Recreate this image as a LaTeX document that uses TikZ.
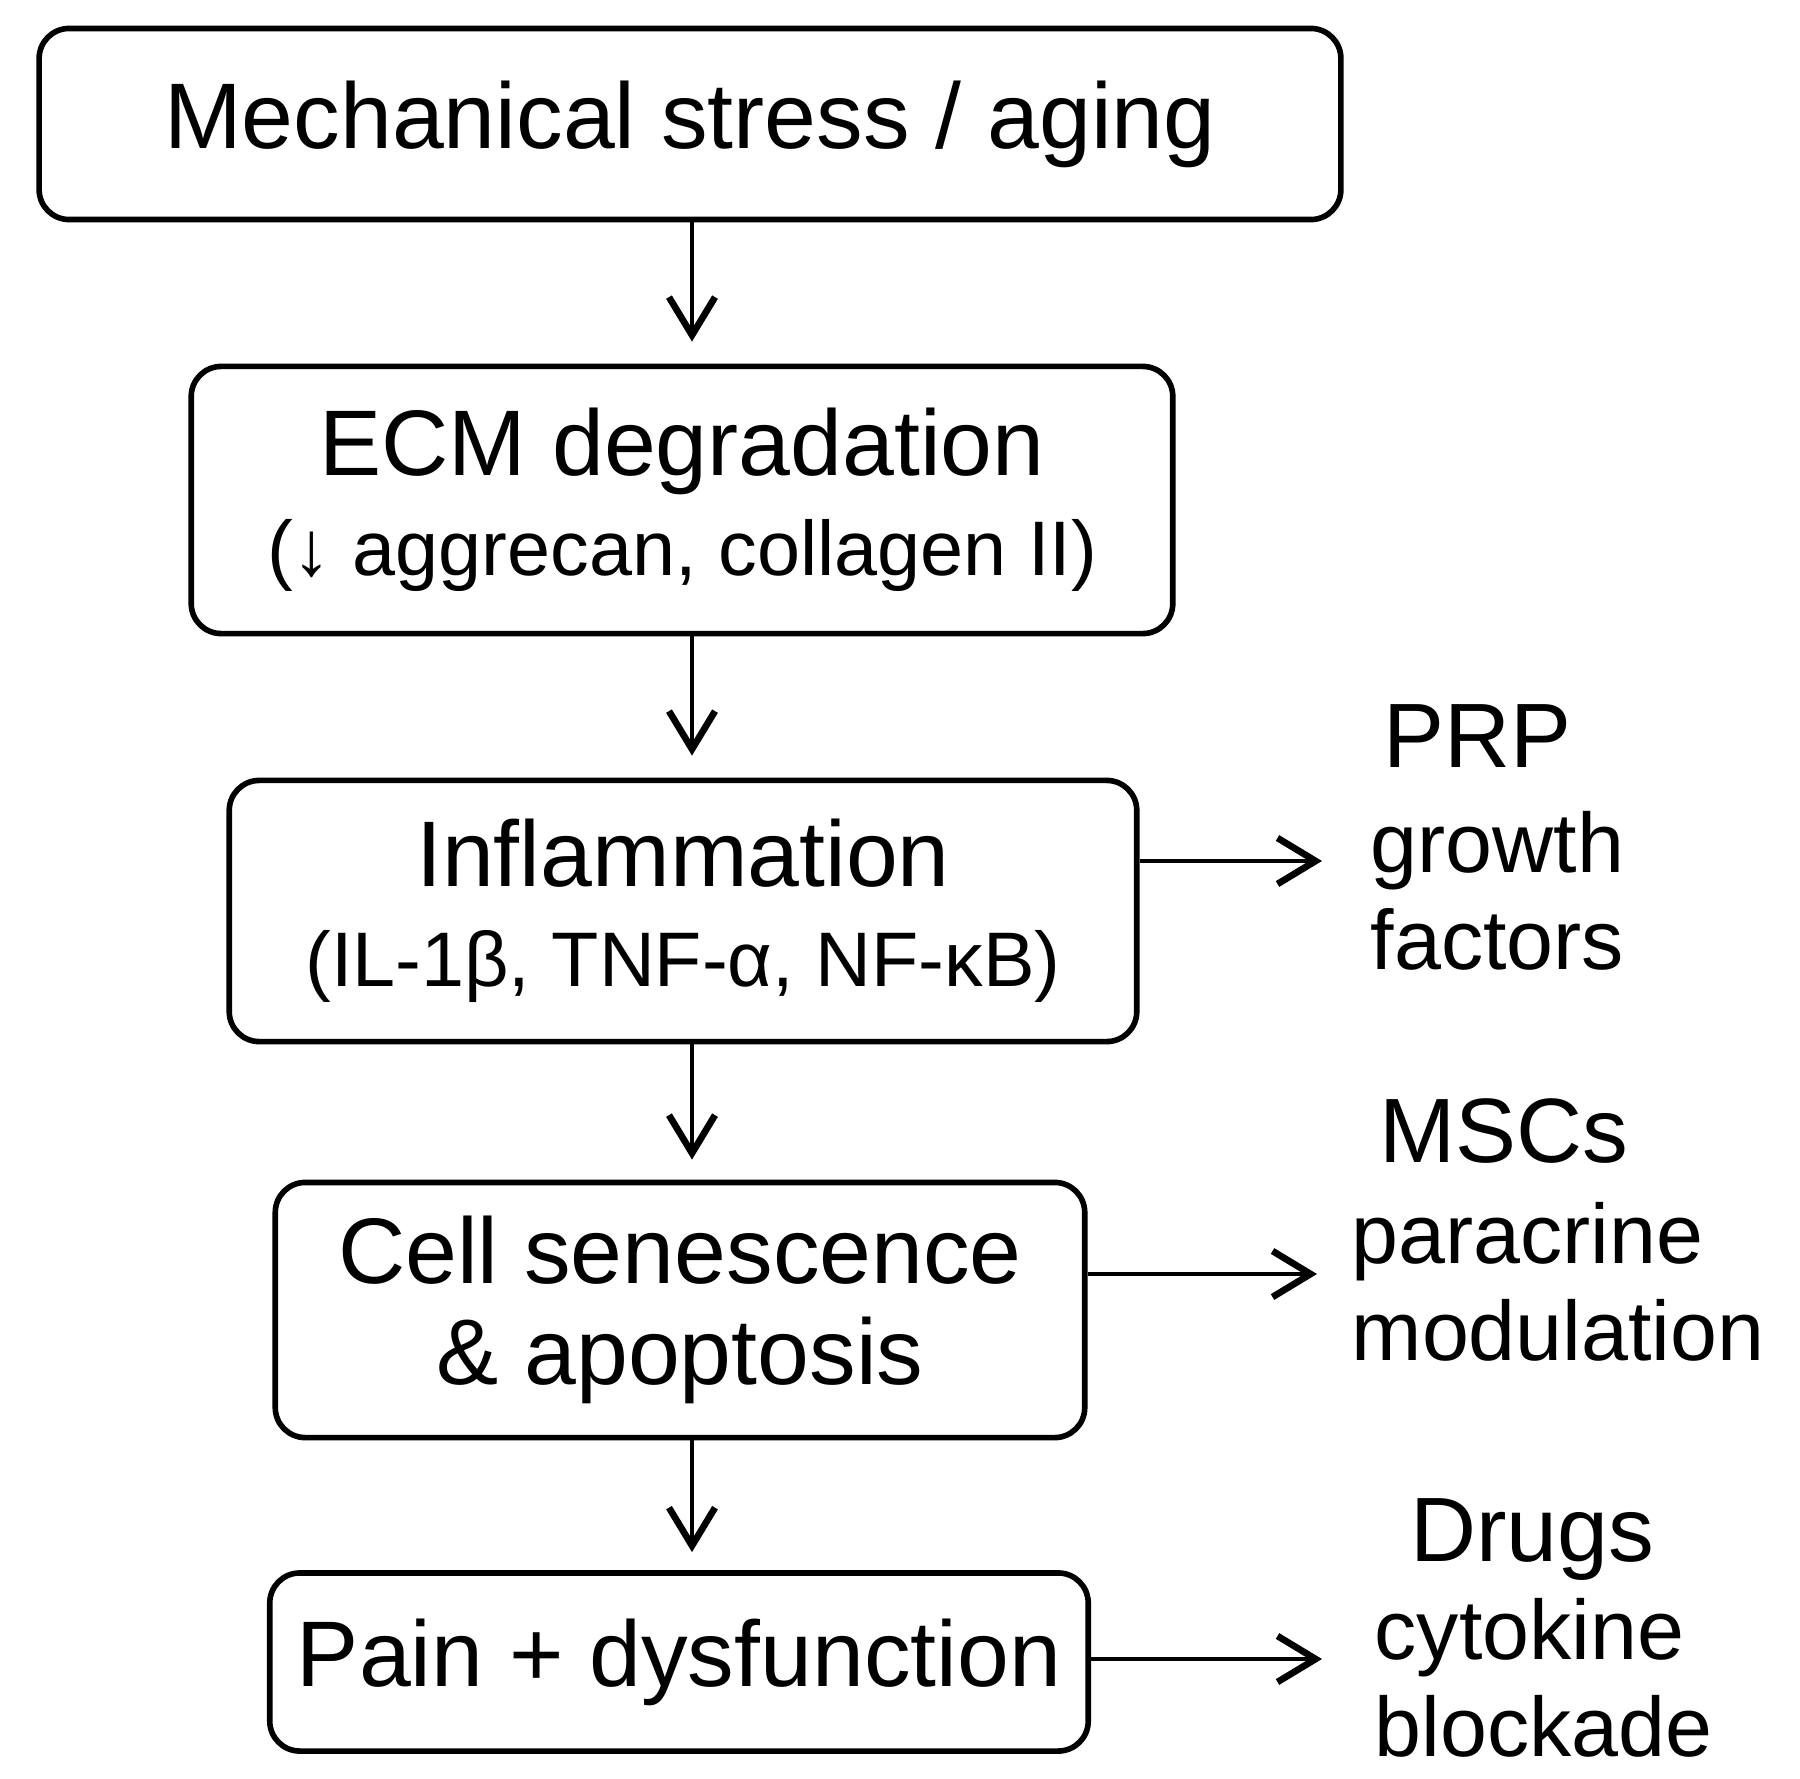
\documentclass[tikz,border=0pt]{standalone}
\usepackage{fontspec}
\setmainfont{Liberation Sans}
\usetikzlibrary{arrows.meta,positioning}
\newcommand{\detailsize}{\fontsize{22}{28.5}\selectfont}

\begin{document}
\begin{tikzpicture}[
  x=0.01cm, y=-0.01cm,
  stage/.style={draw, rounded corners=0.3cm, line width=1.6pt, align=center,
    inner sep=0pt, font=\fontsize{26.5}{28.5}\selectfont},
  therapy/.style={font=\fontsize{26}{30}\selectfont, anchor=base, inner sep=0pt},
  effect/.style={font=\fontsize{24}{27.5}\selectfont, align=left,
    anchor=north west, inner sep=0pt},
  flow/.style={->, line width=1.4pt},
  >={Straight Barb[length=0.38cm,width=0.46cm,line width=1.9pt]},
  ]
  \useasboundingbox (0,0) rectangle (1800,1779);

  % Cascade
  \node[stage, minimum width=13.01cm, minimum height=1.91cm] (stress) at (690,124) {Mechanical stress / aging};
  \node[stage, minimum width=9.81cm, minimum height=2.67cm] (ecm) at (682,500) {ECM degradation\\{\detailsize(↓ aggrecan, collagen II)}};
  \node[stage, minimum width=9.07cm, minimum height=2.61cm] (inflam) at (683,911) {Inflammation\\{\detailsize(IL-1β, TNF-α, NF-κB)}};
  \node[stage, minimum width=8.09cm, minimum height=2.55cm] (senes) at (680,1310) {Cell senescence\\\& apoptosis};
  \node[stage, minimum width=8.18cm, minimum height=1.78cm] (pain) at (679,1662) {Pain + dysfunction};

  % Therapies
  \node[therapy] (prp)    at (1477,767)  {PRP};
  \node[effect]  (prpfx)  at (1370,811)  {growth\\factors};
  \node[therapy] (msc)    at (1504,1162) {MSCs};
  \node[effect]  (mscfx)  at (1351,1202) {paracrine\\modulation};
  \node[therapy] (drug)   at (1532,1561) {Drugs};
  \node[effect]  (drugfx) at (1374,1598) {cytokine\\blockade};

  % Arrow ends
  \coordinate (spine)  at (692,0);
  \coordinate (prpin)  at (1322,861);
  \coordinate (mscin)  at (1317,1274);
  \coordinate (drugin) at (1322,1659);

  % Links down the cascade
  \draw[flow, shorten >=0.22cm] (stress.south -| spine) -- (ecm.north -| spine);
  \draw[flow, shorten >=0.22cm] (ecm.south -| spine) -- (inflam.north -| spine);
  \draw[flow, shorten >=0.2cm] (inflam.south -| spine) -- (senes.north -| spine);
  \draw[flow, shorten >=0.18cm] (senes.south -| spine) -- (pain.north -| spine);
  % Links to therapies
  \draw[flow] (inflam.east |- prpin) -- (prpin);
  \draw[flow] (senes.east |- mscin) -- (mscin);
  \draw[flow] (pain.east |- drugin) -- (drugin);
\end{tikzpicture}
\end{document}
